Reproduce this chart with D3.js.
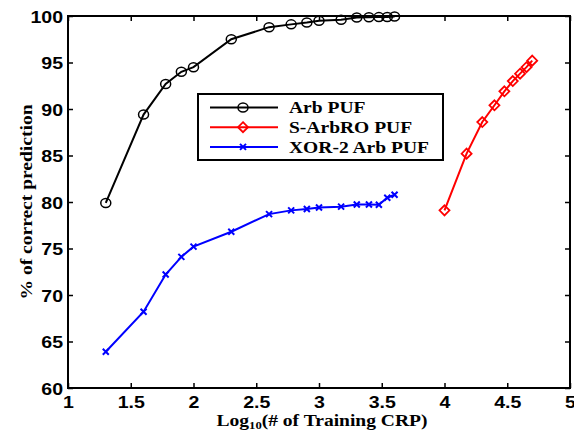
<!DOCTYPE html>
<html lang="en">
<head>
<meta charset="UTF-8">
<title>PUF modeling attack</title>
<style>
    body { margin: 0; background: white; }
    svg { display: block; font-family: "Liberation Serif", "Times New Roman", serif; font-weight: bold; }
    /* the figure's lettering is a bit wider than Liberation Serif, so stretch it */
    .wide { transform-box: fill-box; transform: scaleX(1.15); }
</style>
<script src="https://d3js.org/d3.v7.min.js"></script>
</head>
<body>
<script>
    // training set sizes (log10 of # CRPs)
    const arbCrps = [20, 40, 60, 80, 100, 200, 400, 600, 800, 1000, 1500, 2000, 2500, 3000, 3500, 4000];
    const arbValues = [79.9, 89.4, 92.7, 94.0, 94.5, 97.5, 98.8, 99.1, 99.3, 99.5, 99.6, 99.85, 99.87, 99.88, 99.9, 99.95];

    const xorCrps = [20, 40, 60, 80, 100, 200, 400, 600, 800, 1000, 1500, 2000, 2500, 3000, 3500, 4000];
    const xorValues = [63.9, 68.2, 72.2, 74.1, 75.2, 76.8, 78.7, 79.1, 79.25, 79.4, 79.5, 79.74, 79.74, 79.7, 80.46, 80.78];

    const sroCrps = [10000, 15000, 20000, 25000, 30000, 35000, 40000, 45000, 50000];
    const sroValues = [79.1, 85.2, 88.6, 90.4, 91.9, 93.0, 93.8, 94.5, 95.2];

    const xTicks = [1, 1.5, 2, 2.5, 3, 3.5, 4, 4.5, 5];
    const yTicks = [60, 65, 70, 75, 80, 85, 90, 95, 100];

    const seriesNames = ["Arb PUF", "S-ArbRO PUF", "XOR-2 Arb PUF"];

    const width = 574, height = 435;
    const margin = {left: 68, right: 4, top: 16, bottom: 47};

    const svg = d3.select("body").append("svg")
        .attr("width", width)
        .attr("height", height);

    const x = d3.scaleLinear().domain([1, 5]).range([margin.left, width - margin.right]);
    const y = d3.scaleLinear().domain([60, 100]).range([height - margin.bottom, margin.top]);

    const series = [
        {name: seriesNames[0], color: "black", marker: "circle", pts: arbCrps.map((c, i) => [Math.log10(c), arbValues[i]])},
        {name: seriesNames[1], color: "red", marker: "diamond", pts: sroCrps.map((c, i) => [Math.log10(c), sroValues[i]])},
        {name: seriesNames[2], color: "blue", marker: "cross", pts: xorCrps.map((c, i) => [Math.log10(c), xorValues[i]])}
    ];

    // axes: inward ticks on all four sides, like a boxed matlab plot
    const tickLen = 5;
    svg.append("g")
        .attr("transform", `translate(0,${y(60)})`)
        .call(d3.axisBottom(x).tickValues(xTicks).tickSizeInner(-tickLen).tickSizeOuter(0).tickPadding(8).tickFormat(d3.format("")))
        .call(g => g.selectAll("text").attr("font-size", 17).attr("font-family", null)
            .attr("class", "wide").style("transform-origin", "center"));
    svg.append("g")
        .attr("transform", `translate(0,${y(100)})`)
        .call(d3.axisTop(x).tickValues(xTicks).tickSizeInner(-tickLen).tickSizeOuter(0).tickFormat(""));
    svg.append("g")
        .attr("transform", `translate(${x(1)},0)`)
        .call(d3.axisLeft(y).tickValues(yTicks).tickSizeInner(-tickLen).tickSizeOuter(0).tickPadding(5))
        .call(g => g.selectAll("text").attr("font-size", 17).attr("font-family", null).attr("dy", "0.36em")
            .attr("class", "wide").style("transform-origin", "100% 50%"));
    svg.append("g")
        .attr("transform", `translate(${x(5)},0)`)
        .call(d3.axisRight(y).tickValues(yTicks).tickSizeInner(-tickLen).tickSizeOuter(0).tickFormat(""));

    svg.selectAll(".domain").remove();
    svg.selectAll(".tick line").attr("stroke", "black").attr("stroke-width", 1.5);

    svg.append("rect")
        .attr("x", x(1)).attr("y", y(100))
        .attr("width", x(5) - x(1)).attr("height", y(60) - y(100))
        .attr("fill", "none").attr("stroke", "black").attr("stroke-width", 2);

    function drawMarker(g, type, color) {
        if (type === "circle") {
            g.append("ellipse").attr("rx", 5).attr("ry", 4.5)
                .attr("fill", "none").attr("stroke", color).attr("stroke-width", 1.5);
        } else if (type === "diamond") {
            g.append("path").attr("d", "M0,-5L5,0L0,5L-5,0Z")
                .attr("fill", "none").attr("stroke", color).attr("stroke-width", 1.8);
        } else {
            g.append("path").attr("d", "M-3,-3L3,3M-3,3L3,-3")
                .attr("fill", "none").attr("stroke", color).attr("stroke-width", 2);
        }
    }

    const line = d3.line().x(d => x(d[0])).y(d => y(d[1]));

    series.forEach(s => {
        svg.append("path")
            .datum(s.pts)
            .attr("d", line)
            .attr("fill", "none")
            .attr("stroke", s.color)
            .attr("stroke-width", 2);
        svg.append("g").selectAll("g")
            .data(s.pts)
            .join("g")
            .attr("transform", d => `translate(${x(d[0])},${y(d[1])})`)
            .each(function() { drawMarker(d3.select(this), s.marker, s.color); });
    });

    // legend box
    const legend = svg.append("g").attr("transform", "translate(198,94)");
    legend.append("rect")
        .attr("width", 245).attr("height", 66)
        .attr("fill", "white").attr("stroke", "black").attr("stroke-width", 2);
    series.forEach((s, i) => {
        const row = legend.append("g").attr("transform", `translate(0,${13.5 + i * 19.7})`);
        row.append("line").attr("x1", 12).attr("x2", 80)
            .attr("stroke", s.color).attr("stroke-width", 2);
        drawMarker(row.append("g").attr("transform", "translate(45,0)"), s.marker, s.color);
        row.append("text").attr("x", 91).attr("dy", "0.35em")
            .attr("font-size", 17).attr("class", "wide").style("transform-origin", "0 50%")
            .text(s.name);
    });

    // axis titles
    const xl = svg.append("text")
        .attr("x", 322).attr("y", 426)
        .attr("text-anchor", "middle").attr("font-size", 17)
        .attr("class", "wide").style("transform-origin", "center");
    xl.append("tspan").text("Log");
    xl.append("tspan").attr("font-size", 11).attr("dy", 3).text("10");
    xl.append("tspan").attr("dy", -3).text("(# of Training CRP)");

    svg.append("text")
        .attr("transform", `translate(32,${(y(60) + y(100)) / 2}) rotate(-90) scale(1.15,1)`)
        .attr("text-anchor", "middle").attr("font-size", 17)
        .text("% of correct prediction");
</script>
</body>
</html>
